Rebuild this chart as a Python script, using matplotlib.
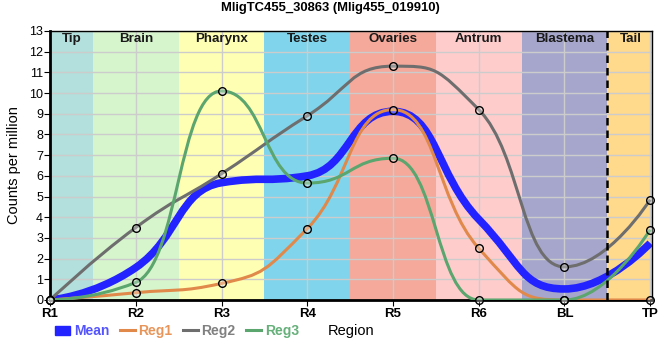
import numpy as np
import matplotlib
matplotlib.use('Agg')
import matplotlib.pyplot as plt
from matplotlib.lines import Line2D
from matplotlib.patches import Patch
from matplotlib.path import Path
from matplotlib.patches import PathPatch

plt.rcParams['font.family'] = ['Liberation Sans', 'DejaVu Sans']

# data
positions = ['R1', 'R2', 'R3', 'R4', 'R5', 'R6', 'BL', 'TP']
reg1 = [0, 0.35, 0.8, 3.45, 9.2, 2.5, 0, 0]
reg2 = [0, 3.5, 6.1, 8.9, 11.3, 9.2, 1.6, 4.85]
reg3 = [0, 0.85, 10.1, 5.65, 6.85, 0, 0, 3.4]
mean = list(np.mean([reg1, reg2, reg3], axis=0))

regions = ['Tip', 'Brain', 'Pharynx', 'Testes', 'Ovaries', 'Antrum', 'Blastema', 'Tail']
region_edges = [0, 0.5, 1.5, 2.5, 3.5, 4.5, 5.5, 6.5, 7.05]
region_colors = ['#b3e0dc', '#d6f5cc', '#ffffb3', '#80d4ec', '#f5a99a', '#ffcccc', '#a6a6cc', '#ffd98c']


def spline_path(x, y, sm=1.0):
    # bezier spline, control points kept between neighbours (no false extremes)
    n = len(x)
    lc = [(x[i], y[i]) for i in range(n)]
    rc = [(x[i], y[i]) for i in range(n)]
    for i in range(1, n - 1):
        d = sm + 1
        lx = (sm * x[i] + x[i-1]) / d
        ly = (sm * y[i] + y[i-1]) / d
        rx = (sm * x[i] + x[i+1]) / d
        ry = (sm * y[i] + y[i+1]) / d
        corr = (ry - ly) * (rx - x[i]) / (rx - lx) + y[i] - ry
        ly += corr
        ry += corr
        if ly > y[i-1] and ly > y[i]:
            ly = max(y[i-1], y[i]); ry = 2 * y[i] - ly
        elif ly < y[i-1] and ly < y[i]:
            ly = min(y[i-1], y[i]); ry = 2 * y[i] - ly
        if ry > y[i+1] and ry > y[i]:
            ry = max(y[i+1], y[i]); ly = 2 * y[i] - ry
        elif ry < y[i+1] and ry < y[i]:
            ry = min(y[i+1], y[i]); ly = 2 * y[i] - ry
        lc[i] = (lx, ly)
        rc[i] = (rx, ry)
    verts = [(x[0], y[0])]
    codes = [Path.MOVETO]
    for i in range(1, n):
        verts += [rc[i-1], lc[i], (x[i], y[i])]
        codes += [Path.CURVE4] * 3
    return Path(verts, codes)


fig = plt.figure(figsize=(6.6, 3.6), dpi=100)
ax = fig.add_axes([0.0758, 0.1667, 0.912, 0.7472])

for i, name in enumerate(regions):
    ax.axvspan(region_edges[i], region_edges[i+1], color=region_colors[i], zorder=0, lw=0)
    ax.text((region_edges[i] + region_edges[i+1]) / 2, 12.6, name, ha='center', va='center',
            fontsize=9.6, fontweight='bold', color='#1a1a1a', zorder=5)

ax.set_xlim(0, 7.02)
ax.set_ylim(0, 13)
ax.set_yticks(range(14))
ax.set_xticks(range(len(positions)))
ax.set_xticklabels(positions, fontweight='bold', fontsize=9.5)
ax.tick_params(axis='y', labelsize=9, length=4, pad=1)
ax.tick_params(axis='x', length=4, pad=2)
ax.grid(True, color='#cccccc', lw=1, zorder=1)
for gl in ax.get_xgridlines() + ax.get_ygridlines():
    gl.set_zorder(1)
ax.axvline(6.5, color='black', ls=(0, (3, 2)), lw=1.8, zorder=6)

for s in ['left', 'bottom']:
    ax.spines[s].set_linewidth(2)
for s in ['top', 'right']:
    ax.spines[s].set_linewidth(1)

xi = list(range(len(positions)))
ax.add_patch(PathPatch(spline_path(xi, mean), fc='none', ec='#2323ff', lw=5.5, zorder=3))
line_cols = ['#e0894a', '#6e6e6e', '#5ba56e']
for vals, c in zip([reg1, reg2, reg3], line_cols):
    ax.add_patch(PathPatch(spline_path(xi, vals), fc='none', ec=c, lw=2.2, zorder=4))
    ax.plot(xi, vals, 'o', ms=5.5, mfc=(1, 1, 1, 0.3), mec='black', mew=1, zorder=7, clip_on=False)

ax.set_ylabel('Counts per million', fontsize=10.5, labelpad=6)
fig.text(0.5, 0.977, 'MligTC455_30863 (Mlig455_019910)', ha='center', va='center',
         fontsize=9.4, fontweight='bold')

handles = [Patch(color='#2323ff'),
           Line2D([], [], color=line_cols[0], lw=2.2),
           Line2D([], [], color=line_cols[1], lw=2.2),
           Line2D([], [], color=line_cols[2], lw=2.2)]
leg = fig.legend(handles, ['Mean', 'Reg1', 'Reg2', 'Reg3'], loc='center left',
                 bbox_to_anchor=(55 / 660, 1 - 331 / 360), ncol=4, frameon=False,
                 prop={'size': 10, 'weight': 'bold'}, borderpad=0, borderaxespad=0,
                 handlelength=1.1, handleheight=0.6, handletextpad=0.25, columnspacing=0.75)
for t, c in zip(leg.get_texts(), ['#5555ff', '#e8955a', '#808080', '#66b07a']):
    t.set_color(c)
fig.text(351 / 660, 1 - 331 / 360, 'Region', ha='center', va='center', fontsize=10.5)

fig.savefig('out.png', dpi=100)
